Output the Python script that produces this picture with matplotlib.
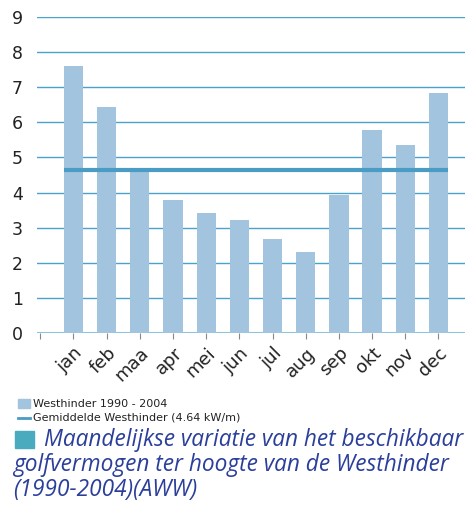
import numpy as np
import matplotlib.pyplot as plt
from matplotlib.patches import Rectangle

months = ["jan", "feb", "maa", "apr", "mei", "jun", "jul", "aug", "sep", "okt", "nov", "dec"]
power = [7.6, 6.44, 4.68, 3.79, 3.42, 3.22, 2.68, 2.31, 3.93, 5.78, 5.36, 6.84]
mean_power = 4.64
yticks = list(range(0, 10))

bar_col = "#a3c4de"
grid_col = "#4aa3cc"
mean_col = "#4a9cc4"
title_col = "#2b3f9a"

fig = plt.figure(figsize=(4.65, 5.07), dpi=100)
ax = fig.add_axes([37 / 465, 1 - 333 / 507, 1 - 37 / 465, (333 - 17) / 507])

x = np.arange(len(months))
ax.bar(x, power, width=0.58, color=bar_col, zorder=2)
ax.plot([-0.29, len(months) - 1 + 0.29], [mean_power, mean_power], color=mean_col, lw=3, zorder=3,
        solid_capstyle="butt")

ax.set_ylim(0, 9)
ax.set_xlim(-1.1, 11.8)
ax.set_yticks(yticks)
for v in yticks[1:]:
    ax.axhline(v, color=grid_col, lw=1, zorder=1)
ax.axhline(0, color="#8cc4e0", lw=1.5, zorder=1)

ax.set_xticks([-1] + list(x))
ax.set_xticklabels([""] + months, rotation=45, ha="right", rotation_mode="anchor", fontsize=13,
                   color="#222222")
ax.tick_params(axis="x", length=4, color="#888888", pad=4)
ax.tick_params(axis="y", length=0, labelsize=12.5, labelcolor="#222222", pad=10)
for s in ax.spines.values():
    s.set_visible(False)

# legend
fig.patches.append(Rectangle((18 / 465, 1 - 408 / 507), 12 / 465, 9 / 507, transform=fig.transFigure,
                             color=bar_col))
fig.text(33 / 465, 1 - 404 / 507, "Westhinder 1990 - 2004", fontsize=8, va="center", color="#222222")
fig.lines.append(plt.Line2D([18 / 465, 30 / 465], [1 - 418 / 507, 1 - 418 / 507], transform=fig.transFigure,
                            color=mean_col, lw=2))
fig.text(33 / 465, 1 - 418 / 507, "Gemiddelde Westhinder (4.64 kW/m)", fontsize=8, va="center",
         color="#222222")

# caption
fig.patches.append(Rectangle((15 / 465, 1 - 448 / 507), 19 / 465, 17 / 507, transform=fig.transFigure,
                             color="#4aabbf"))
cap = ["Maandelijkse variatie van het beschikbaar",
       "golfvermogen ter hoogte van de Westhinder",
       "(1990-2004)(AWW)"]
fig.text(44 / 465, 1 - 440 / 507, cap[0], fontsize=16.3, style="italic", family="Open Sans",
         color=title_col, va="center")
fig.text(13 / 465, 1 - 465 / 507, cap[1], fontsize=16.3, style="italic", family="Open Sans",
         color=title_col, va="center")
fig.text(13 / 465, 1 - 490 / 507, cap[2], fontsize=16.3, style="italic", family="Open Sans",
         color=title_col, va="center")

fig.savefig("out.png", dpi=100)
